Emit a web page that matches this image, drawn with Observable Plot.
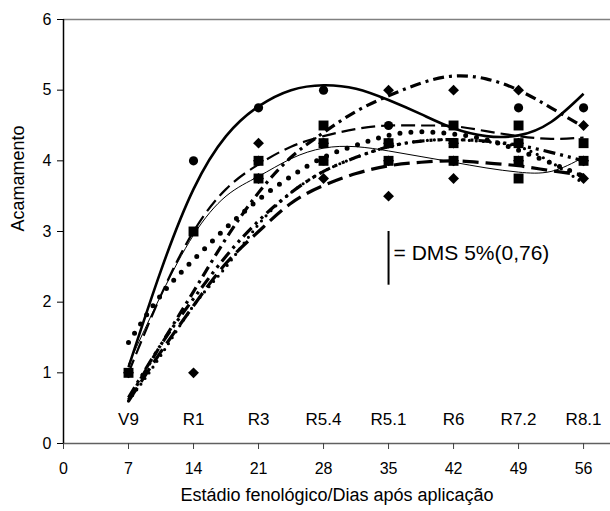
<!DOCTYPE html>
<html>
<head>
<meta charset="utf-8">
<script src="https://cdn.jsdelivr.net/npm/d3@7"></script>
<script src="https://cdn.jsdelivr.net/npm/@observablehq/plot@0.6"></script>
<style>
  html, body { margin: 0; padding: 0; background: white; }
  #chart svg { display: block; }
</style>
</head>
<body>
<div id="chart"></div>
<script>
// ---- data ----
const days = [7, 14, 21, 28, 35, 42, 49, 56];
const stages = ["V9", "R1", "R3", "R5.4", "R5.1", "R6", "R7.2", "R8.1"];
const xTicks = [0, 7, 14, 21, 28, 35, 42, 49, 56];
const yTicks = [0, 1, 2, 3, 4, 5, 6];

// observed marker values per day
const circleVals  = [[1], [4], [4.75, 4.0, 3.75], [5.0, 4.25, 4.0], [4.5, 4.25, 4.0], [4.25, 4.0], [4.75, 4.25, 4.0], [4.75, 4.0]];
const squareVals  = [[1], [3], [4.0, 3.75], [4.5, 4.25, 4.0], [4.25, 4.0], [4.5, 4.25, 4.0], [4.5, 4.25, 4.0, 3.75], [4.25, 4.0]];
const diamondVals = [[1], [1], [4.25, 4.0, 3.75], [4.25, 3.75], [5.0, 4.25, 4.0, 3.5], [5.0, 4.25, 4.0, 3.75], [5.0, 4.25, 4.0], [4.5, 4.0, 3.75]];

// trend curves, values read along the day axis
const curveDays = [7, 10.5, 14, 17.5, 21, 24.5, 28, 31.5, 35, 38.5, 42, 45.5, 49, 52.5, 56];
const curveA = [1.08, 2.45, 3.6, 4.35, 4.77, 5.0, 5.07, 5.02, 4.86, 4.66, 4.46, 4.35, 4.36, 4.55, 4.95]; // thick solid
const curveB = [0.62, 1.4, 2.15, 2.9, 3.55, 4.05, 4.4, 4.7, 4.92, 5.1, 5.2, 5.16, 5.0, 4.75, 4.48];   // dash-dot
const curveC = [1.0, 2.1, 3.0, 3.6, 3.95, 4.2, 4.35, 4.45, 4.5, 4.5, 4.49, 4.42, 4.35, 4.31, 4.33];   // long dash
const curveD = [1.12, 2.1, 2.95, 3.5, 3.78, 4.03, 4.18, 4.2, 4.14, 4.06, 3.98, 3.9, 3.84, 3.85, 4.05]; // thin solid
const curveE = [1.43, 2.1, 2.6, 3.05, 3.45, 3.78, 4.05, 4.22, 4.36, 4.41, 4.38, 4.3, 4.15, 3.97, 3.78]; // big dots
const curveF = [0.6, 1.25, 1.95, 2.5, 3.1, 3.55, 3.85, 4.05, 4.2, 4.28, 4.3, 4.27, 4.2, 3.98, 3.68];   // small dots
const curveG = [0.6, 1.3, 1.95, 2.55, 3.0, 3.4, 3.65, 3.82, 3.93, 3.98, 4.0, 3.97, 3.93, 3.86, 3.8];  // thick long dash
const curveH = [0.65, 1.4, 2.05, 2.65, 3.15, 3.55, 3.85, 4.05, 4.2, 4.28, 4.3, 4.28, 4.22, 4.12, 4.0]; // thick dash-dot-dot

const stageLabelLevel = 0.34;
const dmsDay = 35, dmsBottom = 2.24, dmsValue = 0.76;
const dmsLabel = "= DMS 5%(0,76)";
const xTitle = "Estádio fenológico/Dias após aplicação";
const yTitle = "Acamamento";

// ---- build tables ----
function pts(vals) {
  const out = [];
  vals.forEach((arr, i) => arr.forEach(v => out.push({day: days[i], v})));
  return out;
}
const circles = pts(circleVals), squares = pts(squareVals), diamonds = pts(diamondVals);
const toLine = vals => curveDays.map((d, i) => ({day: d, v: vals[i]}));
const stageData = days.map((d, i) => ({day: d, stage: stages[i], v: stageLabelLevel}));

const lineStyles = [
  {vals: curveG, strokeWidth: 3.2, strokeDasharray: "16,7"},
  {vals: curveH, strokeWidth: 3.2, strokeDasharray: "12,5,3,5,3,5"},
  {vals: curveF, strokeWidth: 3.2, strokeDasharray: "0,7", strokeLinecap: "round"},
  {vals: curveE, strokeWidth: 5, strokeDasharray: "0,11", strokeLinecap: "round"},
  {vals: curveD, strokeWidth: 1},
  {vals: curveC, strokeWidth: 2.2, strokeDasharray: "14,6"},
  {vals: curveB, strokeWidth: 3.2, strokeDasharray: "11,5,3,5"},
  {vals: curveA, strokeWidth: 2.6}
];

const font = "'Liberation Sans', Arial, Helvetica, sans-serif";

const chart = Plot.plot({
  width: 610,
  height: 511,
  marginLeft: 63,
  marginRight: 0,
  marginTop: 19,
  marginBottom: 68,
  x: {domain: [0, 58.9]},
  y: {domain: [0, 6]},
  style: {fontFamily: font, fontSize: "16px", background: "white", color: "black", overflow: "visible"},
  marks: [
    Plot.ruleY([6], {stroke: "#808080", strokeWidth: 1.5}),
    Plot.ruleY([0], {stroke: "#606060", strokeWidth: 1.5}),
    Plot.ruleX([0], {stroke: "black", strokeWidth: 1.5}),
    Plot.axisY({ticks: yTicks, tickFormat: d3.format("d"), tickSize: 6, tickPadding: 6, label: null, fontSize: 16, stroke: "black"}),
    Plot.axisX({ticks: xTicks, tickFormat: d3.format("d"), tickSize: 6, tickPadding: 13, label: null, fontSize: 16, stroke: "#404040"}),
    ...lineStyles.map(s => Plot.line(toLine(s.vals), {
      x: "day", y: "v", curve: "natural", stroke: "black",
      strokeWidth: s.strokeWidth, strokeDasharray: s.strokeDasharray,
      strokeLinecap: s.strokeLinecap || "butt"
    })),
    Plot.dot(circles, {x: "day", y: "v", symbol: "circle", r: 4.6, fill: "black"}),
    Plot.dot(squares, {x: "day", y: "v", symbol: "square", r: 5.6, fill: "black"}),
    Plot.dot(diamonds, {x: "day", y: "v", symbol: "diamond2", r: 4.9, fill: "black"}),
    Plot.text(stageData, {x: "day", y: "v", text: "stage", fontSize: 17, fill: "black"}),
    Plot.ruleX([{day: dmsDay, y1: dmsBottom, y2: dmsBottom + dmsValue}], {x: "day", y1: "y1", y2: "y2", stroke: "black", strokeWidth: 2}),
    Plot.text([{day: dmsDay, v: dmsBottom + dmsValue * 0.6}], {x: "day", y: "v", text: () => dmsLabel, textAnchor: "start", dx: 5, fontSize: 21, fill: "black"}),
    Plot.text([xTitle], {frameAnchor: "bottom", dy: 57, fontSize: 18, fill: "black"}),
    Plot.text([yTitle], {frameAnchor: "left", dx: -45, rotate: -90, fontSize: 18, fill: "black"})
  ]
});
document.getElementById("chart").appendChild(chart);
</script>
</body>
</html>
